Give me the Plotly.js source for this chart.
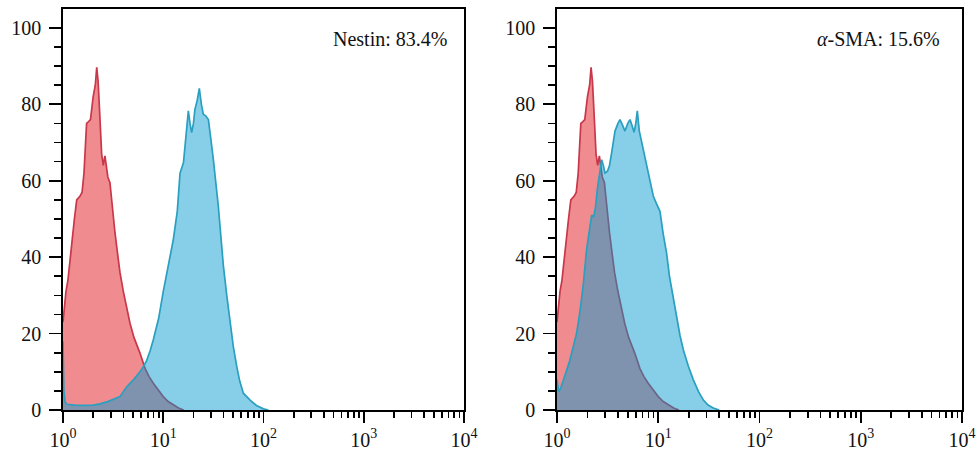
<!DOCTYPE html>
<html>
<head>
<meta charset="utf-8">
<script src="https://cdn.plot.ly/plotly-3.0.1.min.js"></script>
<style>html,body{margin:0;padding:0;background:#fff;}#chart{width:977px;height:456px;}</style>
</head>
<body>
<div id="chart"></div>
<script>
// Isotype control (red), same in both panels
const controlX = [1.0, 1.03, 1.07, 1.12, 1.2, 1.3, 1.37, 1.48, 1.55, 1.62, 1.68, 1.72, 1.8, 1.88, 2.0, 2.1, 2.17, 2.24, 2.3, 2.43, 2.52, 2.62, 2.7, 2.8, 2.94, 3.1, 3.3, 3.5, 3.7, 4.0, 4.3, 4.66, 5.1, 5.86, 6.58, 7.2, 7.96, 9.0, 10, 11.2, 12.6, 14.2, 16];
const controlY = [23, 27, 31, 34, 42, 50, 55, 56, 57, 62, 70, 75, 75.5, 76, 82, 85, 89.7, 86, 80, 67, 64, 66.5, 64, 61, 59.5, 53, 46.4, 41, 36, 31, 27, 22.7, 19, 14.9, 10.9, 8.8, 7, 5, 3.5, 2.2, 1.3, 0.5, 0];

// Nestin (blue, left panel)
const nestinX = [1.0, 1.02, 1.05, 1.1, 1.3, 1.6, 2.0, 2.34, 2.8, 3.43, 3.7, 4.32, 5.04, 5.86, 6.33, 6.84, 7.4, 7.96, 9.0, 10, 11.2, 12.6, 13.8, 14.7, 15.9, 17.1, 17.8, 18.5, 19.2, 20.0, 20.7, 21.8, 22.9, 24.0, 25.1, 26.5, 28.2, 29.8, 31.6, 35.4, 39.7, 43, 46.3, 50, 54, 58, 63, 73.5, 85, 100, 112];
const nestinY = [18, 5, 2, 1.5, 1.3, 1.2, 1.3, 1.6, 2.2, 3.2, 3.5, 6.1, 7.9, 10, 11.3, 13, 15.5, 18.4, 24, 31, 38, 44.6, 52, 62, 64.7, 74.4, 78.3, 75, 72.6, 75, 78.7, 81, 84.2, 80, 77.4, 77, 76, 71, 65.6, 53.4, 38, 30, 23, 16.6, 11.5, 7.5, 4.4, 2.6, 1.2, 0.3, 0];

// alpha-SMA (blue, right panel)
const smaX = [1.0, 1.04, 1.08, 1.15, 1.25, 1.34, 1.45, 1.56, 1.69, 1.82, 1.96, 2.12, 2.2, 2.3, 2.4, 2.5, 2.62, 2.76, 2.87, 2.98, 3.15, 3.3, 3.47, 3.74, 4.0, 4.19, 4.45, 4.69, 5.0, 5.26, 5.5, 5.77, 6.0, 6.21, 6.5, 6.87, 7.25, 7.68, 8.28, 8.93, 9.6, 10.4, 11.2, 12.1, 12.9, 13.6, 14.4, 15.2, 16.4, 17.7, 19.8, 22.2, 25, 27.9, 31, 35, 40];
const smaY = [8, 4.8, 5.5, 7.5, 10.5, 13, 17, 20, 26, 33, 42, 49, 51, 50.5, 53, 57.7, 61, 65.5, 64, 62, 62.5, 64, 67.4, 73, 75, 76, 74.5, 73, 75, 76, 74.5, 72.7, 75, 78.3, 73, 70, 67, 63.9, 60.4, 56, 54, 52, 46, 41, 35, 31.5, 28, 24.5, 19.5, 15.7, 11.5, 7.9, 4.8, 2.6, 1.3, 0.5, 0];

const xTickVals = [1, 10, 100, 1000, 10000];
const xTickText = ['10<sup>0</sup>', '10<sup>1</sup>', '10<sup>2</sup>', '10<sup>3</sup>', '10<sup>4</sup>'];
const labels = ['Nestin: 83.4%', '<i>α</i>-SMA: 15.6%'];

const redLine = '#c8374a', redFill = '#f08c90';
const blueLine = '#2a9fbf', blueFill = 'rgba(5,154,206,0.48)';

function red(xa, ya) {
  return {x: controlX, y: controlY, xaxis: xa, yaxis: ya, type: 'scatter', mode: 'lines',
    fill: 'tozeroy', fillcolor: redFill, line: {color: redLine, width: 1.7}, hoverinfo: 'skip', showlegend: false};
}
function blue(xs, ys, xa, ya) {
  return {x: xs, y: ys, xaxis: xa, yaxis: ya, type: 'scatter', mode: 'lines',
    fill: 'tozeroy', fillcolor: blueFill, line: {color: blueLine, width: 1.7}, hoverinfo: 'skip', showlegend: false};
}

const traces = [
  red('x', 'y'), blue(nestinX, nestinY, 'x', 'y'),
  red('x2', 'y2'), blue(smaX, smaY, 'x2', 'y2')
];

const font = {family: 'Liberation Serif, Times New Roman, serif', size: 20, color: '#111'};
function xaxis(domain, anchor) {
  return {type: 'log', range: [0, 4], domain: domain, anchor: anchor,
    tickmode: 'array', tickvals: xTickVals, ticktext: xTickText,
    showline: true, linecolor: '#000', linewidth: 1.7, mirror: true,
    ticks: 'outside', ticklen: 11, tickwidth: 1.7, tickcolor: '#000',
    minor: {ticks: 'outside', ticklen: 6, tickwidth: 1.7, tickcolor: '#000', dtick: 'D1', showgrid: false},
    showgrid: false, zeroline: false, tickfont: font};
}
function yaxis(domain, anchor) {
  return {range: [0, 104.95], domain: domain, anchor: anchor, tick0: 0, dtick: 20,
    showline: true, linecolor: '#000', linewidth: 1.7, mirror: true,
    ticks: 'outside', ticklen: 12, tickwidth: 1.7, tickcolor: '#000',
    ticklabelstandoff: 4,
    minor: {ticks: 'outside', ticklen: 7, tickwidth: 1.7, tickcolor: '#000', dtick: 5, showgrid: false},
    showgrid: false, zeroline: false, tickfont: font};
}

const yDom = [46 / 456, 447 / 456];
const layout = {
  width: 977, height: 456,
  margin: {l: 0, r: 0, t: 0, b: 0},
  paper_bgcolor: '#fff', plot_bgcolor: '#fff',
  showlegend: false,
  xaxis: xaxis([63 / 977, 464 / 977], 'y'),
  yaxis: yaxis(yDom, 'x'),
  xaxis2: xaxis([557 / 977, 962 / 977], 'y2'),
  yaxis2: yaxis(yDom, 'x2'),
  annotations: [
    {text: labels[0], xref: 'x domain', yref: 'y domain', x: 0.962, y: 0.925, xanchor: 'right', yanchor: 'middle', showarrow: false, font: font},
    {text: labels[1], xref: 'x2 domain', yref: 'y2 domain', x: 0.95, y: 0.925, xanchor: 'right', yanchor: 'middle', showarrow: false, font: font}
  ]
};

Plotly.newPlot('chart', traces, layout, {staticPlot: true, displayModeBar: false});
</script>
</body>
</html>
